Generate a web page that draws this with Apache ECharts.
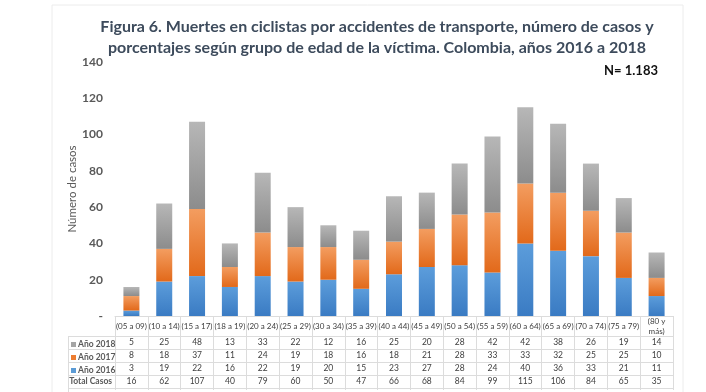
<!DOCTYPE html>
<html><head><meta charset="utf-8">
<script src="https://cdn.jsdelivr.net/npm/echarts@6/dist/echarts.min.js"></script>
<style>html,body{margin:0;padding:0;background:#fff}#c{width:706px;height:392px}</style>
</head><body><div id="c"></div>
<script>
const categories = ['(05 a 09)','(10 a 14)','(15 a 17)','(18 a 19)','(20 a 24)','(25 a 29)','(30 a 34)','(35 a 39)','(40 a 44)','(45 a 49)','(50 a 54)','(55 a 59)','(60 a 64)','(65 a 69)','(70 a 74)','(75 a 79)','(80 y más)'];
const y2018 = [5,25,48,13,33,22,12,16,25,20,28,42,42,38,26,19,14];
const y2017 = [8,18,37,11,24,19,18,16,18,21,28,33,33,32,25,25,10];
const y2016 = [3,19,22,16,22,19,20,15,23,27,28,24,40,36,33,21,11];
const totals = [16,62,107,40,79,60,50,47,66,68,84,99,115,106,84,65,35];
const yTicks = [0,20,40,60,80,100,120,140];

const FONT = 'Lato';
const grad = (top, bottom) => new echarts.graphic.LinearGradient(0,0,0,1,[{offset:0,color:top},{offset:1,color:bottom}]);
const lineCol = '#dcdcdc';

const chart = echarts.init(document.getElementById('c'), null, {renderer:'canvas'});
const extraAxes = [20,33,46,59,72].map(off => ({
  type:'category', data:categories, position:'bottom', offset:off,
  axisLine:{show:true, lineStyle:{color:lineCol, width:1}},
  axisTick:{show:false}, axisLabel:{show:false}, splitLine:{show:false}
}));
const fs = 8;
const fr = 8.5;
chart.setOption({
  animation:false,
  textStyle:{fontFamily:FONT},
  title:{
    text:'Figura 6. Muertes en ciclistas por accidentes de transporte, número de casos y\nporcentajes según grupo de edad de la víctima. Colombia, años 2016 a 2018',
    left:372, top:11, textAlign:'center',
    textStyle:{fontFamily:FONT, fontSize:16, fontWeight:'bold', color:'#3d4b5c', lineHeight:21}
  },
  legend:{
    orient:'vertical', left:71, top:338, padding:0, itemGap:0, itemWidth:5, itemHeight:5, icon:'rect',
    textStyle:{fontFamily:FONT, fontSize:8.5, fontWeight:'bold', color:'#595959', lineHeight:13, padding:[0,0,0,-3]},
    data:[
      {name:'Año 2018', itemStyle:{color:'#a5a5a5'}},
      {name:'Año 2017', itemStyle:{color:'#ed7d31'}},
      {name:'Año 2016', itemStyle:{color:'#5b9bd5'}}
    ]
  },
  grid:{left:115, right:33, top:62, bottom:76},
  xAxis:[{
    type:'category', data:categories, position:'bottom',
    axisLine:{show:true, lineStyle:{color:lineCol}},
    axisTick:{show:true, interval:0, length:74, lineStyle:{color:lineCol}},
    axisLabel:{
      interval:0, margin:0, color:'#404040', fontFamily:FONT, fontSize:fs,
      formatter:(v, i) => {
        const head = v === '(80 y más)' ? '{h2|(80 y}\n{h2|más)}' : '{h|' + v + '}';
        return head + '\n{r|' + y2018[i] + '}\n{r|' + y2017[i] + '}\n{r|' + y2016[i] + '}\n{r|' + totals[i] + '}';
      },
      rich:{
        h:{lineHeight:20, fontSize:fs, color:'#404040', fontFamily:FONT},
        h2:{lineHeight:10, fontSize:fs, color:'#404040', fontFamily:FONT},
        r:{lineHeight:13, fontSize:fr, color:'#404040', fontFamily:FONT}
      }
    }
  }].concat(extraAxes),
  yAxis:{
    type:'value', min:0, max:140, interval:20,
    name:'Número de casos', nameLocation:'middle', nameGap:37, nameMoveOverlap:false,
    nameTextStyle:{fontFamily:FONT, fontSize:11.5, color:'#595959'},
    axisLine:{show:false}, axisTick:{show:false}, splitLine:{show:false},
    axisLabel:{fontFamily:FONT, fontSize:12, fontWeight:'bold', color:'#595959', margin:12,
      formatter:v => v === 0 ? '-' : String(v)}
  },
  series:[
    {name:'Año 2016', type:'bar', stack:'t', data:y2016, barWidth:16, itemStyle:{color:grad('#5c9ddb','#3a7bc3')}},
    {name:'Año 2017', type:'bar', stack:'t', data:y2017, barWidth:16, itemStyle:{color:grad('#f39d60','#e2691a')}},
    {name:'Año 2018', type:'bar', stack:'t', data:y2018, barWidth:16, itemStyle:{color:grad('#b7b7b7','#8c8c8c')}}
  ],
  graphic:[
    {type:'rect', shape:{x:52, y:5, width:631, height:400}, style:{fill:'none', stroke:'#ececec', lineWidth:1}, silent:true},
    {type:'text', left:604, top:64, style:{text:'N= 1.183', fontFamily:FONT, fontSize:13, fontWeight:'bold', fill:'#111'}},
    {type:'text', right:706-112, top:377, style:{text:'Total Casos', fontFamily:FONT, fontSize:8.5, fontWeight:'bold', fill:'#595959'}},
    ...[336,349,362,375,388].map(y => ({type:'line', shape:{x1:68, y1:y+0.5, x2:115, y2:y+0.5}, style:{stroke:lineCol, lineWidth:1}, silent:true})),
    {type:'line', shape:{x1:68.5, y1:336, x2:68.5, y2:392}, style:{stroke:lineCol, lineWidth:1}, silent:true}
  ]
});
</script></body></html>
